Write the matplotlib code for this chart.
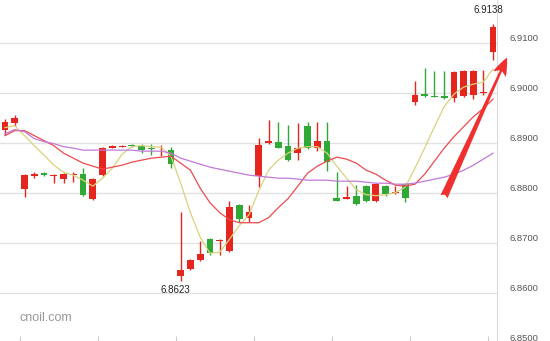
import numpy as np
import matplotlib.pyplot as plt

plt.rcParams['font.family'] = ['Liberation Sans', 'DejaVu Sans']

# candle data (open, high, low, close)
opens = [6.8926, 6.8940, 6.8808, 6.8833, 6.8839, 6.8833, 6.8827, 6.8835, 6.8837, 6.8788,
         6.8835, 6.8890, 6.8892, 6.8896, 6.8894, 6.8890, 6.8889, 6.8885, 6.8633, 6.8647,
         6.8665, 6.8707, 6.8703, 6.8683, 6.8776, 6.8750, 6.8833, 6.8900, 6.8902, 6.8894,
         6.8879, 6.8934, 6.8890, 6.8904, 6.8790, 6.8788, 6.8794, 6.8813, 6.8784, 6.8813,
         6.8800, 6.8817, 6.8981, 6.8997, 6.8994, 6.8993, 6.8989, 6.8993, 6.8995, 6.8999,
         6.9082]
highs = [6.8948, 6.8956, 6.8837, 6.8841, 6.8841, 6.8837, 6.8839, 6.8841, 6.8849, 6.8829,
         6.8892, 6.8896, 6.8896, 6.8898, 6.8898, 6.8898, 6.8896, 6.8892, 6.8762, 6.8667,
         6.8703, 6.8709, 6.8707, 6.8784, 6.8778, 6.8776, 6.8910, 6.8946, 6.8942, 6.8936,
         6.8940, 6.8942, 6.8942, 6.8942, 6.8841, 6.8813, 6.8815, 6.8815, 6.8819, 6.8815,
         6.8813, 6.8819, 6.9023, 6.9049, 6.9043, 6.9043, 6.9043, 6.9045, 6.9045, 6.9045,
         6.9138]
lows = [6.8916, 6.8934, 6.8792, 6.8829, 6.8833, 6.8819, 6.8819, 6.8821, 6.8794, 6.8786,
        6.8833, 6.8889, 6.8892, 6.8892, 6.8879, 6.8875, 6.8873, 6.8849, 6.8623, 6.8645,
        6.8663, 6.8675, 6.8675, 6.8681, 6.8742, 6.8742, 6.8811, 6.8898, 6.8889, 6.8863,
        6.8865, 6.8887, 6.8883, 6.8843, 6.8784, 6.8788, 6.8776, 6.8782, 6.8782, 6.8794,
        6.8798, 6.8782, 6.8975, 6.8991, 6.8991, 6.8987, 6.8981, 6.8991, 6.8987, 6.8995,
        6.9066]
closes = [6.8942, 6.8950, 6.8835, 6.8837, 6.8835, 6.8835, 6.8837, 6.8837, 6.8796, 6.8827,
          6.8889, 6.8894, 6.8894, 6.8894, 6.8885, 6.8887, 6.8890, 6.8857, 6.8645, 6.8665,
          6.8677, 6.8679, 6.8705, 6.8772, 6.8748, 6.8762, 6.8896, 6.8904, 6.8890, 6.8865,
          6.8890, 6.8889, 6.8904, 6.8861, 6.8784, 6.8792, 6.8778, 6.8784, 6.8817, 6.8798,
          6.8802, 6.8790, 6.8995, 6.8993, 6.8992, 6.8989, 6.9041, 6.9043, 6.9043, 6.9001,
          6.9132]

# moving average lines
ma_short = [6.8930, 6.8934, 6.8914, 6.8894, 6.8875, 6.8855, 6.8841, 6.8835, 6.8825, 6.8813,
            6.8829, 6.8849, 6.8877, 6.8892, 6.8894, 6.8892, 6.8891, 6.8873, 6.8819, 6.8760,
            6.8711, 6.8679, 6.8681, 6.8707, 6.8734, 6.8756, 6.8804, 6.8845, 6.8865, 6.8879,
            6.8889, 6.8892, 6.8892, 6.8879, 6.8853, 6.8829, 6.8806, 6.8796, 6.8794, 6.8796,
            6.8800, 6.8811, 6.8849, 6.8889, 6.8932, 6.8972, 6.8997, 6.9011, 6.9017, 6.9021,
            6.9047]
ma_mid = [6.8914, 6.8924, 6.8924, 6.8914, 6.8904, 6.8894, 6.8879, 6.8869, 6.8859, 6.8853,
          6.8847, 6.8851, 6.8855, 6.8861, 6.8865, 6.8869, 6.8871, 6.8873, 6.8859, 6.8845,
          6.8809, 6.8780, 6.8760, 6.8746, 6.8740, 6.8740, 6.8740, 6.8750, 6.8770, 6.8788,
          6.8813, 6.8839, 6.8853, 6.8863, 6.8871, 6.8867, 6.8859, 6.8845, 6.8837, 6.8825,
          6.8815, 6.8813, 6.8817, 6.8837, 6.8863, 6.8889, 6.8912, 6.8932, 6.8952, 6.8968,
          6.8987]
ma_long = [6.8918, 6.8926, 6.8922, 6.8908, 6.8902, 6.8898, 6.8892, 6.8889, 6.8885, 6.8885,
           6.8885, 6.8885, 6.8885, 6.8885, 6.8883, 6.8883, 6.8883, 6.8879, 6.8869, 6.8863,
           6.8857, 6.8851, 6.8847, 6.8843, 6.8839, 6.8835, 6.8833, 6.8831, 6.8829, 6.8829,
           6.8827, 6.8825, 6.8825, 6.8825, 6.8823, 6.8823, 6.8823, 6.8821, 6.8819, 6.8819,
           6.8817, 6.8817, 6.8819, 6.8823, 6.8827, 6.8831, 6.8837, 6.8845, 6.8855, 6.8867,
           6.8879]

y_ticks = [6.85, 6.86, 6.87, 6.88, 6.89, 6.90, 6.91]

UP = '#e5261f'
DOWN = '#2fa836'

fig = plt.figure(figsize=(5.5, 3.41), dpi=100)
ax = fig.add_axes([0, -0.0205, 497 / 550, 1.0205])

x = np.arange(len(opens))
o = np.array(opens)
c = np.array(closes)
colors = [UP if cc >= oo else DOWN for oo, cc in zip(o, c)]

# wicks then bodies
ax.vlines(x, lows, highs, colors=colors, linewidth=1, zorder=2)
body = np.maximum(np.abs(c - o), 0.00012)
ax.bar(x, body, bottom=np.minimum(o, c), width=0.7, color=colors, linewidth=0, zorder=3)

ax.plot(x, ma_short, color='#d9d27c', linewidth=0.9, zorder=4)
ax.plot(x, ma_mid, color='#ee4a4e', linewidth=0.9, zorder=4)
ax.plot(x, ma_long, color='#c27ad8', linewidth=0.9, zorder=4)

# high / low labels
ax.annotate('6.9138', xy=(50, 6.9138), xytext=(-3.5, 6), textcoords='offset points',
            ha='center', va='bottom', fontsize=7, color='#222222')
ax.annotate('6.8623', xy=(18, 6.8623), xytext=(-3.5, -3), textcoords='offset points',
            ha='center', va='top', fontsize=7, color='#222222')

# big red arrow
ax.annotate('', xy=(51.43, 6.9070), xytext=(44.98, 6.8792),
            arrowprops=dict(arrowstyle='fancy,head_length=1.3,head_width=1.0,tail_width=0.55',
                            fc='#f0302e', ec='none', shrinkA=0, shrinkB=0),
            annotation_clip=False, zorder=5)

# watermark
fig.text(19 / 550, 1 - 318 / 341, 'cnoil.com', fontsize=9, color='#999999',
         va='center', ha='left')

ax.set_xlim(-0.512, 50.41)
ax.set_ylim(6.84897, 6.91850)
ax.set_yticks(y_ticks)
ax.set_yticklabels([f'{v:.4f}' for v in y_ticks])
ax.yaxis.tick_right()
ax.tick_params(axis='y', length=0, pad=9, labelsize=6.8, labelcolor='#555555')
for lbl in ax.get_yticklabels():
    lbl.set_verticalalignment('bottom')
ax.set_xticks([1.5, 9.5, 17.5, 25.5, 33.5, 41.5, 49.5])
ax.set_xticklabels([])
ax.tick_params(axis='x', direction='in', length=9, color='#cccccc', width=0.8)
ax.grid(axis='y', color='#e2e2e2', linewidth=1)
ax.set_axisbelow(True)

for side in ['top', 'left']:
    ax.spines[side].set_visible(False)
ax.spines['right'].set_color('#d3dbe6')
ax.spines['bottom'].set_color('#cccccc')

plt.savefig('out.png', dpi=100)
